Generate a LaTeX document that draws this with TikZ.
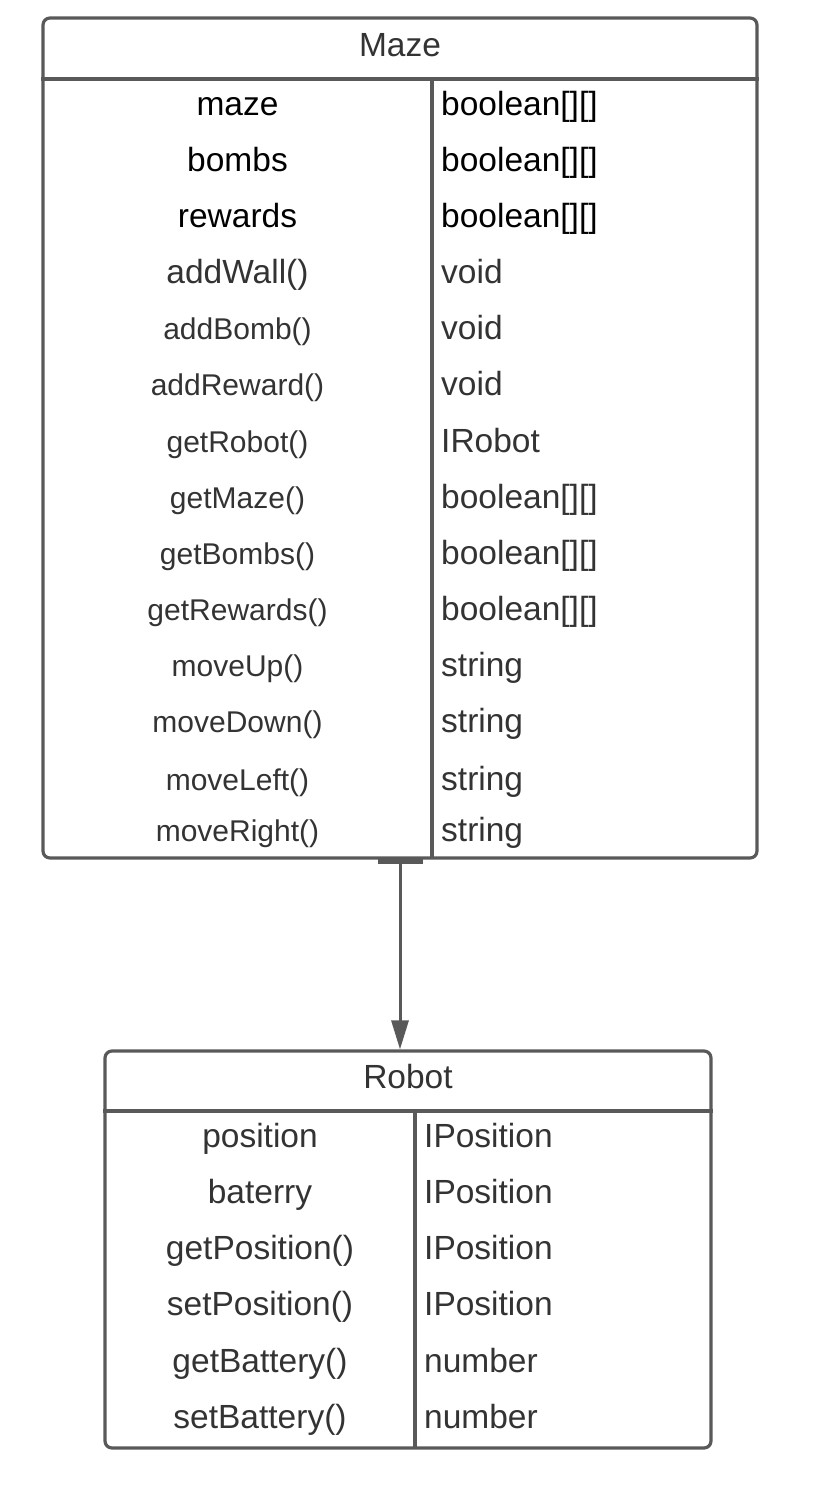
\documentclass[tikz,border=0pt]{standalone}
\usepackage{fontspec}
\setmainfont{Liberation Sans}
\usetikzlibrary{arrows.meta}
\definecolor{edge}{HTML}{595959}
\definecolor{ink}{HTML}{333333}

\begin{document}
\begin{tikzpicture}[x=1pt,y=-1pt,
  box/.style={draw=edge, line width=3.2pt, rounded corners=7pt, inner sep=0pt},
  rule/.style={draw=edge, line width=3.2pt},
  big/.style={font=\fontsize{33.5}{40}\selectfont, inner sep=0pt},
  small/.style={font=\fontsize{30}{36}\selectfont, inner sep=0pt}]
\useasboundingbox (0,0) rectangle (814,1488);

% class Maze
\node[box, minimum width=714pt, minimum height=840pt] (maze) at (400,438) {};
\draw[rule] (maze.west |- 0,79) -- (maze.east |- 0,79);
\draw[rule] (432,79) -- (432,858);
\node[big, text=ink, anchor=base] (mazetitle) at (400,57) {Maze};
\foreach \fld/\typ/\yy/\sz/\col [count=\i] in {
    maze/{boolean[][]}/115/big/black,
    bombs/{boolean[][]}/171/big/black,
    rewards/{boolean[][]}/227/big/black,
    addWall()/void/283/big/ink,
    addBomb()/void/339/small/ink,
    addReward()/void/395/small/ink,
    getRobot()/IRobot/452/small/ink,
    getMaze()/{boolean[][]}/508/small/ink,
    getBombs()/{boolean[][]}/564/small/ink,
    getRewards()/{boolean[][]}/620/small/ink,
    moveUp()/string/676/small/ink,
    moveDown()/string/732/small/ink,
    moveLeft()/string/790/small/ink,
    moveRight()/string/841/small/ink} {
  \node[\sz, text=\col, anchor=base] (mazef\i) at (237.5,\yy) {\fld};
  \node[big, text=\col, anchor=base west] (mazet\i) at (441,\yy) {\typ};
}

% class Robot
\node[box, minimum width=606pt, minimum height=397pt] (robot) at (408,1249.5) {};
\draw[rule] (robot.west |- 0,1111) -- (robot.east |- 0,1111);
\draw[rule] (415,1111) -- (415,1448);
\node[big, text=ink, anchor=base] (robottitle) at (408,1088) {Robot};
\foreach \fld/\typ/\yy [count=\i] in {
    position/IPosition/1147,
    baterry/IPosition/1203,
    getPosition()/IPosition/1259,
    setPosition()/IPosition/1315,
    getBattery()/number/1372,
    setBattery()/number/1428} {
  \node[big, text=ink, anchor=base] (robotf\i) at (260,\yy) {\fld};
  \node[big, text=ink, anchor=base west] (robott\i) at (424,\yy) {\typ};
}

% association
\draw[edge, line width=6pt] (378,861) -- (423,861);
\draw[edge, line width=3pt, -{Triangle[length=29pt,width=17pt]}] (maze.south) -- (maze.south |- robot.north);

\end{tikzpicture}
\end{document}
